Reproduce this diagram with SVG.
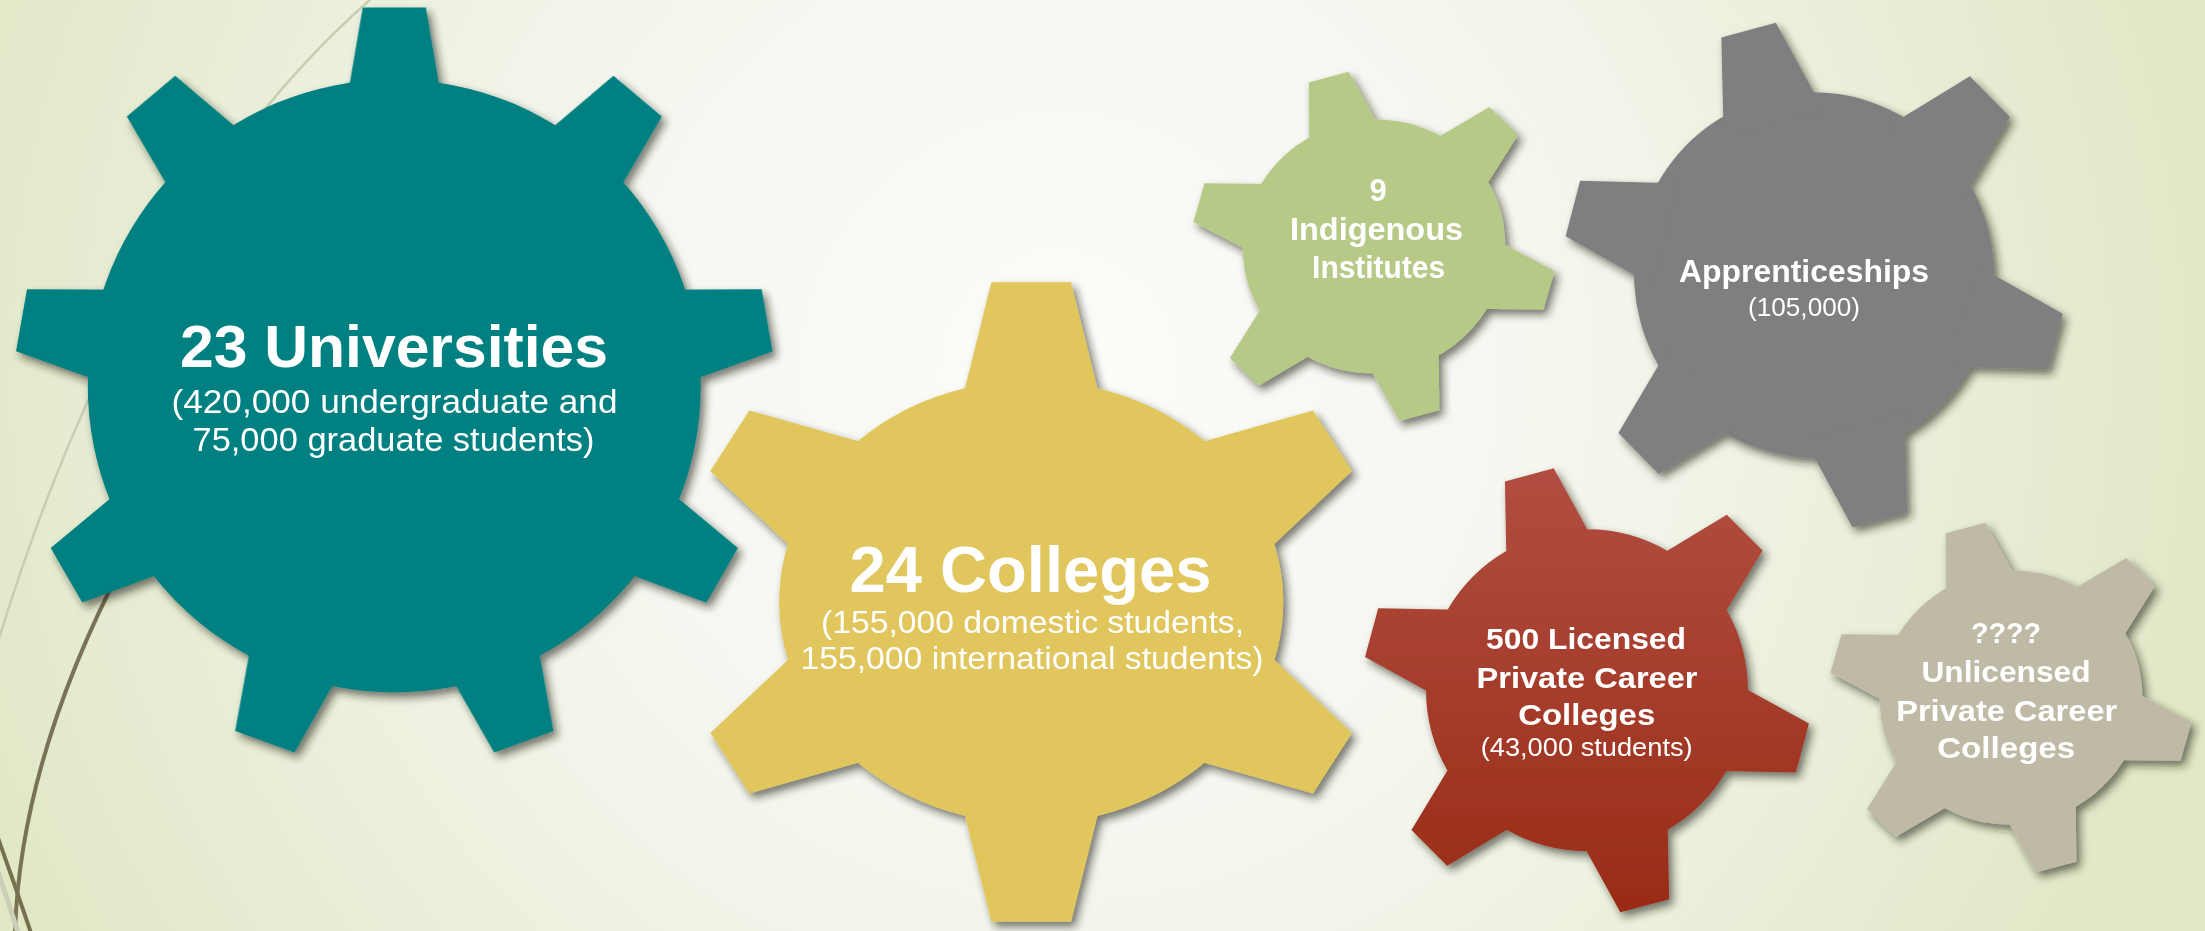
<svg xmlns="http://www.w3.org/2000/svg" xmlns:xlink="http://www.w3.org/1999/xlink" width="2205" height="931" viewBox="0 0 2205 931">
<defs>
  <radialGradient id="bg" gradientUnits="userSpaceOnUse" cx="1060" cy="370" r="1160">
    <stop offset="0" stop-color="#FCFCFA"/>
    <stop offset="0.45" stop-color="#F4F6EE"/>
    <stop offset="1" stop-color="#E0E8C6"/>
  </radialGradient>
  <linearGradient id="redGrad" gradientUnits="userSpaceOnUse" x1="0" y1="466" x2="0" y2="914">
    <stop offset="0" stop-color="#B14F41"/>
    <stop offset="1" stop-color="#992B16"/>
  </linearGradient>
  <filter id="shadow" x="-15%" y="-15%" width="130%" height="130%">
    <feDropShadow dx="4" dy="5" stdDeviation="4" flood-color="#1E1E14" flood-opacity="0.6"/>
  </filter>
  <polygon id="tooth9" points="85,-16.9 123.5,-10.3 123.5,10.3 85,16.9"/>
  <polygon id="tooth6" points="85,-28.9 138.5,-15.7 138.5,15.7 85,28.9"/>
  <clipPath id="redClip">
    <circle cx="0" cy="0" r="100" transform="translate(1587,690.3) rotate(-15) scale(1.61)"/>
    <use xlink:href="#tooth6" transform="translate(1587,690.3) rotate(-15) scale(1.61) rotate(-90)"/>
    <use xlink:href="#tooth6" transform="translate(1587,690.3) rotate(-15) scale(1.61) rotate(-30)"/>
    <use xlink:href="#tooth6" transform="translate(1587,690.3) rotate(-15) scale(1.61) rotate(30)"/>
    <use xlink:href="#tooth6" transform="translate(1587,690.3) rotate(-15) scale(1.61) rotate(90)"/>
    <use xlink:href="#tooth6" transform="translate(1587,690.3) rotate(-15) scale(1.61) rotate(150)"/>
    <use xlink:href="#tooth6" transform="translate(1587,690.3) rotate(-15) scale(1.61) rotate(210)"/>
  </clipPath>
</defs>
<style>
  .b { font-family: "Liberation Sans", Arial, sans-serif; font-weight: 700; fill: #FFFFFF; text-anchor: middle; }
  .r { font-family: "Liberation Sans", Arial, sans-serif; font-weight: 400; fill: #FFFFFF; text-anchor: middle; }
  .deco { fill: none; stroke-linecap: butt; }
</style>

<rect x="0" y="0" width="2205" height="931" fill="url(#bg)"/>

<g id="decor">
  <path class="deco" d="M 372 -2 Q 130 210 -2 642" stroke="#C9CDB3" stroke-width="2.5"/>
  <path class="deco" d="M 125 560 Q 20 760 15 933" stroke="#7A7256" stroke-width="4"/>
  <path class="deco" d="M -2 872 Q 8 900 18 933" stroke="#CBCFB6" stroke-width="5"/>
  <path class="deco" d="M -2 838 Q 15 885 31 933" stroke="#77704F" stroke-width="4"/>
</g>

<g id="gear-universities">
  <g filter="url(#shadow)" fill="#008080">
    <g transform="translate(394.3,386) scale(3.065)">
      <circle cx="0" cy="0" r="100"/>
      <use xlink:href="#tooth9" transform="rotate(-90)"/>
      <use xlink:href="#tooth9" transform="rotate(-50)"/>
      <use xlink:href="#tooth9" transform="rotate(-10)"/>
      <use xlink:href="#tooth9" transform="rotate(30)"/>
      <use xlink:href="#tooth9" transform="rotate(70)"/>
      <use xlink:href="#tooth9" transform="rotate(110)"/>
      <use xlink:href="#tooth9" transform="rotate(150)"/>
      <use xlink:href="#tooth9" transform="rotate(190)"/>
      <use xlink:href="#tooth9" transform="rotate(230)"/>
    </g>
  </g>
  <text class="b" x="394" y="367" font-size="60" textLength="428" lengthAdjust="spacingAndGlyphs">23 Universities</text>
  <text class="r" x="394.5" y="413" font-size="33" textLength="446" lengthAdjust="spacingAndGlyphs">(420,000 undergraduate and</text>
  <text class="r" x="393.5" y="451" font-size="33" textLength="402" lengthAdjust="spacingAndGlyphs">75,000 graduate students)</text>
</g>

<g id="gear-colleges">
  <g filter="url(#shadow)" fill="#E0C65C">
    <ellipse cx="1031.2" cy="602" rx="252" ry="221.5"/>
    <polygon points="962,400 991.4,282.3 1071,282.3 1100.4,400"/>
    <polygon points="962,804 991.4,921.7 1071,921.7 1100.4,804"/>
    <polygon points="749.4,410.6 710.4,471 801.5,556.7 873.2,445.5"/>
    <polygon points="1313,410.6 1352,471 1260.9,556.7 1189.2,445.5"/>
    <polygon points="749.4,793.4 710.4,733 801.5,647.3 873.2,758.5"/>
    <polygon points="1313,793.4 1352,733 1260.9,647.3 1189.2,758.5"/>
  </g>
  <text class="b" x="1030.5" y="591.5" font-size="65" textLength="362" lengthAdjust="spacingAndGlyphs">24 Colleges</text>
  <text class="r" x="1032.5" y="633" font-size="31" textLength="423" lengthAdjust="spacingAndGlyphs">(155,000 domestic students,</text>
  <text class="r" x="1032" y="668.5" font-size="31" textLength="463" lengthAdjust="spacingAndGlyphs">155,000 international students)</text>
</g>

<g id="gear-indigenous">
  <g filter="url(#shadow)" fill="#B7C986">
    <g transform="translate(1374,246.4) rotate(-15) scale(1.315,1.265)">
      <circle cx="0" cy="0" r="100"/>
      <use xlink:href="#tooth6" transform="rotate(-90)"/>
      <use xlink:href="#tooth6" transform="rotate(-30)"/>
      <use xlink:href="#tooth6" transform="rotate(30)"/>
      <use xlink:href="#tooth6" transform="rotate(90)"/>
      <use xlink:href="#tooth6" transform="rotate(150)"/>
      <use xlink:href="#tooth6" transform="rotate(210)"/>
    </g>
  </g>
  <text class="b" x="1378" y="201" font-size="31">9</text>
  <text class="b" x="1376.5" y="240" font-size="31" textLength="173" lengthAdjust="spacingAndGlyphs">Indigenous</text>
  <text class="b" x="1378.6" y="277.7" font-size="31" textLength="133" lengthAdjust="spacingAndGlyphs">Institutes</text>
</g>

<g id="gear-apprenticeships">
  <g filter="url(#shadow)" fill="#7F7F7F">
    <g transform="translate(1814.2,275) rotate(-15) scale(1.80,1.83)">
      <circle cx="0" cy="0" r="100"/>
      <use xlink:href="#tooth6" transform="rotate(-90)"/>
      <use xlink:href="#tooth6" transform="rotate(-30)"/>
      <use xlink:href="#tooth6" transform="rotate(30)"/>
      <use xlink:href="#tooth6" transform="rotate(90)"/>
      <use xlink:href="#tooth6" transform="rotate(150)"/>
      <use xlink:href="#tooth6" transform="rotate(210)"/>
    </g>
  </g>
  <text class="b" x="1804" y="281.7" font-size="31" textLength="250" lengthAdjust="spacingAndGlyphs">Apprenticeships</text>
  <text class="r" x="1804" y="315.7" font-size="25" textLength="112" lengthAdjust="spacingAndGlyphs">(105,000)</text>
</g>

<g id="gear-licensed-pcc">
  <g filter="url(#shadow)">
    <rect x="1340" y="440" width="500" height="500" fill="url(#redGrad)" clip-path="url(#redClip)"/>
  </g>
  <text class="b" x="1586" y="649.3" font-size="30" textLength="200" lengthAdjust="spacingAndGlyphs">500 Licensed</text>
  <text class="b" x="1587" y="687.7" font-size="30" textLength="221" lengthAdjust="spacingAndGlyphs">Private Career</text>
  <text class="b" x="1586.7" y="725" font-size="30" textLength="137" lengthAdjust="spacingAndGlyphs">Colleges</text>
  <text class="r" x="1586.7" y="755.5" font-size="25" textLength="212" lengthAdjust="spacingAndGlyphs">(43,000 students)</text>
</g>

<g id="gear-unlicensed-pcc">
  <g filter="url(#shadow)" fill="#BEBAA5">
    <g transform="translate(2011,697.5) rotate(-15) scale(1.315,1.267)">
      <circle cx="0" cy="0" r="100"/>
      <use xlink:href="#tooth6" transform="rotate(-90)"/>
      <use xlink:href="#tooth6" transform="rotate(-30)"/>
      <use xlink:href="#tooth6" transform="rotate(30)"/>
      <use xlink:href="#tooth6" transform="rotate(90)"/>
      <use xlink:href="#tooth6" transform="rotate(150)"/>
      <use xlink:href="#tooth6" transform="rotate(210)"/>
    </g>
  </g>
  <text class="b" x="2006" y="643.3" font-size="30" textLength="70" lengthAdjust="spacingAndGlyphs">????</text>
  <text class="b" x="2006" y="681.7" font-size="30" textLength="169" lengthAdjust="spacingAndGlyphs">Unlicensed</text>
  <text class="b" x="2006.7" y="720.7" font-size="30" textLength="221" lengthAdjust="spacingAndGlyphs">Private Career</text>
  <text class="b" x="2006.2" y="758.3" font-size="30" textLength="138" lengthAdjust="spacingAndGlyphs">Colleges</text>
</g>
</svg>
